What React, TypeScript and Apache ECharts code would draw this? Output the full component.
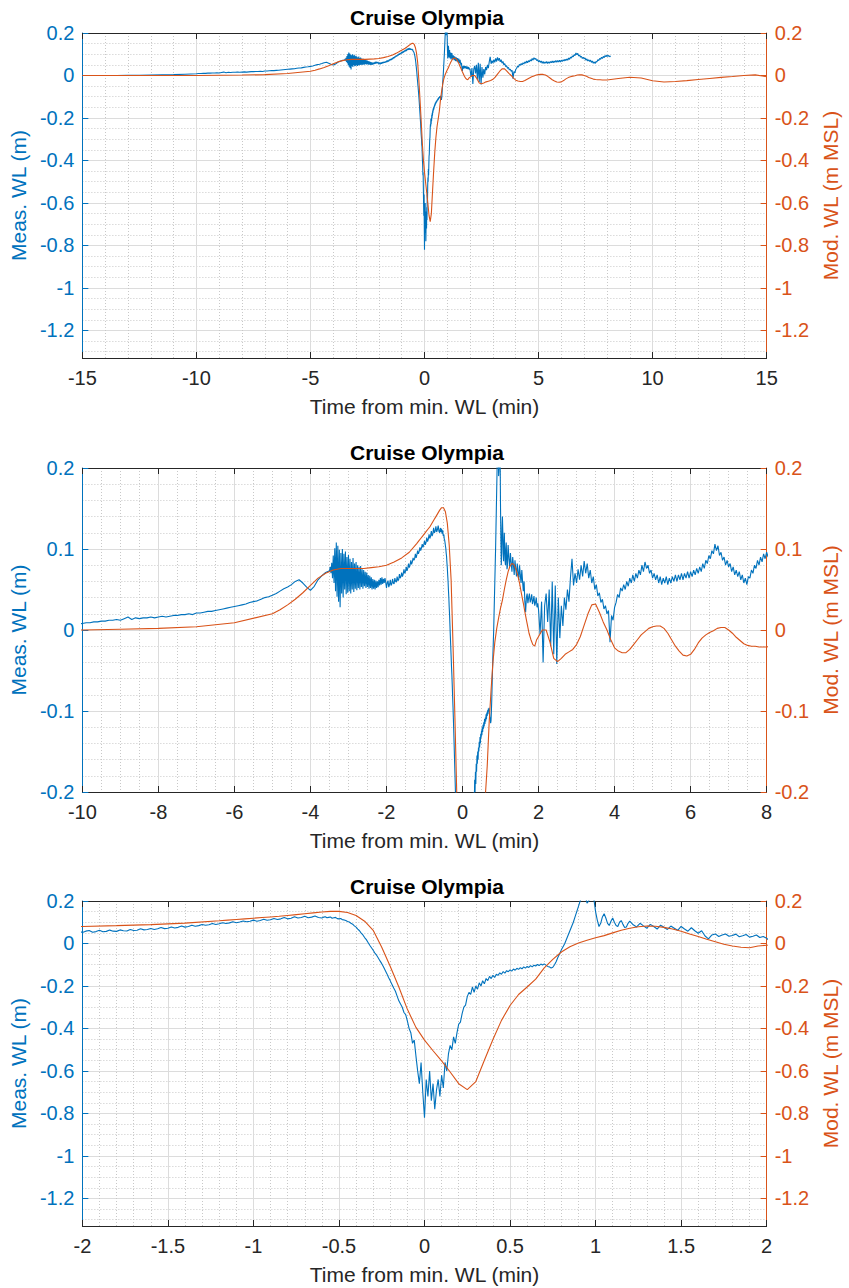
import React, { useEffect, useRef } from "react";
import * as echarts from "echarts";

// Measured water level (m), sampled in segments: start time (min), step (min), values
const measT0 = [-15, -10, -3.5, -2.0, -0.6, 1.2, 2.0];
const measDt = [0.5, 0.1, 0.02, 0.02, 0.01, 0.02, 0.04];

const measFar = [0, 0, 0, 0, 0.001, 0.001, 0.002, 0.003, 0.004, 0.006];

const measPre = [
  0.008, 0.009, 0.009, 0.010, 0.010, 0.011, 0.011, 0.012, 0.012, 0.013,
  0.012, 0.014, 0.016, 0.013, 0.015, 0.014, 0.015, 0.015, 0.016, 0.015,
  0.016, 0.017, 0.016, 0.017, 0.018, 0.018, 0.019, 0.019, 0.020, 0.019,
  0.021, 0.021, 0.022, 0.023, 0.023, 0.024, 0.025, 0.026, 0.027, 0.028,
  0.029, 0.030, 0.031, 0.032, 0.034, 0.035, 0.036, 0.038, 0.040, 0.041,
  0.043, 0.045, 0.048, 0.051, 0.053, 0.056, 0.060, 0.062, 0.058, 0.053,
  0.049, 0.054, 0.062, 0.067, 0.071,
];

const measWake = [
  0.073, 0.078, 0.070, 0.083, 0.064, 0.092, 0.058, 0.101, 0.048, 0.108,
  0.041, 0.104, 0.035, 0.099, 0.028, 0.095, 0.045, 0.100, 0.040, 0.094,
  0.050, 0.097, 0.044, 0.090, 0.046, 0.093, 0.048, 0.088, 0.045, 0.084,
  0.050, 0.089, 0.047, 0.082, 0.051, 0.084, 0.049, 0.080, 0.052, 0.078,
  0.050, 0.079, 0.053, 0.075, 0.051, 0.074, 0.054, 0.072, 0.052, 0.071,
  0.053, 0.068, 0.051, 0.067, 0.052, 0.065, 0.050, 0.063, 0.051, 0.062,
  0.050, 0.061, 0.052, 0.060, 0.053, 0.062, 0.055, 0.064, 0.056, 0.065,
  0.057, 0.063, 0.058, 0.064, 0.059,
];

const measRise = [
  0.052, 0.058, 0.061, 0.053, 0.056, 0.062, 0.055, 0.057, 0.063, 0.058,
  0.057, 0.064, 0.060, 0.059, 0.066, 0.061, 0.062, 0.069, 0.064, 0.066,
  0.071, 0.066, 0.069, 0.075, 0.070, 0.072, 0.078, 0.073, 0.076, 0.082,
  0.077, 0.080, 0.086, 0.081, 0.084, 0.089, 0.086, 0.088, 0.094, 0.089,
  0.093, 0.098, 0.094, 0.097, 0.102, 0.098, 0.101, 0.106, 0.102, 0.105,
  0.110, 0.105, 0.108, 0.114, 0.109, 0.112, 0.118, 0.113, 0.116, 0.122,
  0.116, 0.119, 0.126, 0.120, 0.122, 0.128, 0.121, 0.124, 0.129, 0.122,
];

const measDrop = [
  0.120, 0.124, 0.126, 0.121, 0.123, 0.125, 0.119, 0.121, 0.123, 0.117,
  0.116, 0.118, 0.112, 0.111, 0.108, 0.104, 0.101, 0.095, 0.091, 0.083,
  0.077, 0.068, 0.060, 0.049, 0.040, 0.028, 0.018, 0.005, -0.008, -0.020,
  -0.032, -0.045, -0.055, -0.068, -0.082, -0.095, -0.110, -0.126, -0.142, -0.160,
  -0.176, -0.193, -0.210, -0.225, -0.248, -0.270, -0.285, -0.300, -0.325, -0.335,
  -0.365, -0.400, -0.420, -0.470, -0.455, -0.530, -0.600, -0.660, -0.560, -0.700,
  -0.820, -0.640, -0.720, -0.600, -0.740, -0.660, -0.780, -0.690, -0.640, -0.720,
  -0.620, -0.680, -0.560, -0.600, -0.520, -0.480, -0.500, -0.440, -0.470, -0.420,
  -0.380, -0.370, -0.330, -0.300, -0.290, -0.250, -0.230, -0.240, -0.205, -0.230,
  -0.200, -0.215, -0.185, -0.200, -0.175, -0.190, -0.165, -0.175, -0.155, -0.165,
  -0.150, -0.160, -0.145, -0.150, -0.138, -0.145, -0.132, -0.140, -0.128, -0.133,
  -0.124, -0.130, -0.120, -0.126, -0.117, -0.122, -0.114, -0.119, -0.110, -0.116,
  -0.108, -0.113, -0.104, -0.110, -0.102, -0.106, -0.099, -0.104, -0.097, -0.101,
  -0.096, -0.102, -0.108, -0.110, -0.115, -0.112, -0.100, -0.085, -0.065, -0.048,
  -0.030, -0.015, 0.000, 0.020, 0.040, 0.060, 0.080, 0.100, 0.125, 0.150,
  0.175, 0.200, 0.230, 0.245, 0.225, 0.190, 0.200, 0.235, 0.250, 0.210,
  0.150, 0.110, 0.080, 0.095, 0.125, 0.140, 0.120, 0.095, 0.085, 0.105,
  0.120, 0.100, 0.085, 0.080, 0.100, 0.108, 0.090, 0.075, 0.078, 0.095,
];

const measSettle = [
  0.105, 0.088, 0.078, 0.095, 0.083, 0.072, 0.090, 0.080, 0.068, 0.086,
  0.076, 0.066, 0.082, 0.072, 0.062, 0.080, 0.068, 0.058, 0.074, 0.060,
  0.048, 0.060, 0.035, 0.022, 0.040, 0.045, 0.033, 0.040, 0.045, 0.034,
  0.038, 0.044, 0.032, 0.036, 0.042, 0.030, 0.034, 0.040, 0.028, 0.033,
];

const measLate = [
  0.025, -0.005, 0.035, -0.040, 0.030, 0.045, 0.010, 0.050, -0.020, 0.060,
  -0.030, 0.055, -0.042, 0.040, -0.010, 0.030, 0.005, 0.040, 0.025, 0.050,
  0.035, 0.065, 0.088, 0.055, 0.070, 0.058, 0.075, 0.062, 0.080, 0.066,
  0.085, 0.070, 0.082, 0.064, 0.074, 0.058, 0.066, 0.050, 0.056, 0.042,
  0.046, 0.034, 0.038, 0.026, 0.030, 0.020, 0.024, -0.015, 0.018, 0.012,
  0.028, 0.034, 0.044, 0.040, 0.052, 0.048, 0.056, 0.050, 0.060, 0.054,
  0.064, 0.058, 0.068, 0.060, 0.070, 0.064, 0.074, 0.068, 0.080, 0.072,
  0.084, 0.076, 0.080, 0.070, 0.074, 0.064, 0.070, 0.062, 0.068, 0.058,
  0.066, 0.056, 0.064, 0.058, 0.066, 0.056, 0.064, 0.058, 0.066, 0.060,
  0.068, 0.060, 0.068, 0.062, 0.070, 0.062, 0.070, 0.064, 0.072, 0.064,
  0.072, 0.066, 0.074, 0.068, 0.076, 0.070, 0.078, 0.072, 0.082, 0.076,
  0.086, 0.082, 0.092, 0.088, 0.098, 0.094, 0.106, 0.098, 0.104, 0.092,
  0.096, 0.086, 0.090, 0.080, 0.086, 0.078, 0.082, 0.072, 0.078, 0.068,
  0.074, 0.066, 0.072, 0.062, 0.068, 0.058, 0.064, 0.056, 0.066, 0.064,
  0.074, 0.070, 0.080, 0.076, 0.086, 0.080, 0.090, 0.084, 0.094, 0.088,
  0.096, 0.090, 0.094, 0.088, 0.092,
];

// Modelled water level (m MSL), same segment layout
const modT0 = [-15, -5, -1.2, 2.0, 8.0];
const modDt = [1, 0.2, 0.05, 0.1, 0.5];

const modFar = [0, 0, 0, 0, 0, 0, 0.001, 0.002, 0.004, 0.009];

const modRise = [
  0.020, 0.025, 0.031, 0.038, 0.046, 0.055, 0.064, 0.070, 0.074, 0.076,
  0.076, 0.076, 0.076, 0.077, 0.078, 0.080, 0.084, 0.089, 0.096,
];

const modDip = [
  0.107, 0.110, 0.113, 0.116, 0.119, 0.122, 0.125, 0.128, 0.132, 0.136,
  0.140, 0.144, 0.148, 0.151, 0.151, 0.146, 0.132, 0.105, 0.062, -0.018,
  -0.108, -0.205, -0.310, -0.395, -0.455, -0.505, -0.553, -0.605, -0.660, -0.688,
  -0.650, -0.550, -0.452, -0.362, -0.292, -0.240, -0.205, -0.168, -0.115, -0.075,
  -0.040, -0.015, 0.002, 0.015, 0.027, 0.037, 0.050, 0.062, 0.072, 0.079,
  0.082, 0.081, 0.076, 0.068, 0.058, 0.045, 0.033, 0.020, 0.008, -0.004,
  -0.012, -0.018, -0.020, -0.012,
];

const modWaves = [
  -0.008, 0.000, 0.000, -0.015, -0.035, -0.039, -0.035, -0.030, -0.027, -0.024,
  -0.018, -0.008, 0.006, 0.020, 0.031, 0.032, 0.022, 0.010, 0.000, -0.012,
  -0.022, -0.026, -0.028, -0.028, -0.024, -0.018, -0.012, -0.006, -0.002, 0.002,
  0.004, 0.005, 0.005, 0.002, -0.004, -0.012, -0.020, -0.026, -0.031, -0.032,
  -0.030, -0.024, -0.016, -0.010, -0.006, -0.003, -0.001, 0.002, 0.003, 0.003,
  0.000, -0.004, -0.009, -0.013, -0.017, -0.019, -0.020, -0.020, -0.021, -0.021,
];

const modTail = [
  -0.021, -0.014, -0.008, -0.012, -0.025, -0.031, -0.028, -0.024, -0.019, -0.014,
  -0.009, -0.005, 0.000, 0.003, -0.006,
];

const panelTitle = "Cruise Olympia";
const xName = "Time from min. WL (min)";
const yLeftName = "Meas. WL (m)";
const yRightName = "Mod. WL (m MSL)";

// Axis ranges per panel: x [min, max, major step, minor splits], y [min, max, major step, minor splits]
const xRanges = [
  [-15, 15, 5, 5],
  [-10, 8, 2, 4],
  [-2, 2, 0.5, 5],
];
const yRanges = [
  [-1.33, 0.2, 0.2, 4],
  [-0.2, 0.2, 0.1, 5],
  [-1.33, 0.2, 0.2, 4],
];

const BLUE = "#0072BD";
const ORANGE = "#D95319";
const AXIS = "#262626";
const MAJOR_GRID = "#dcdcdc";
const MINOR_GRID = "#c8c8c8";
const FONT = '"Liberation Sans", Arial, Helvetica, sans-serif';

function buildSeries(t0s: number[], dts: number[], segs: number[][]) {
  const out: [number, number][] = [];
  segs.forEach((seg, k) =>
    seg.forEach((v, i) => out.push([+(t0s[k] + i * dts[k]).toFixed(4), v]))
  );
  return out;
}

const measured = buildSeries(measT0, measDt, [
  measFar, measPre, measWake, measRise, measDrop, measSettle, measLate,
]);
const modelled = buildSeries(modT0, modDt, [modFar, modRise, modDip, modWaves, modTail]);

const GRID_LEFT = 82;
const GRID_WIDTH = 690;
const gridTops = [33, 468, 901];
const gridHeights = [325, 324, 325];
const titleY = [17, 452, 886];

function isMultiple(a: number, b: number) {
  const r = a / b;
  return Math.abs(r - Math.round(r)) < 1e-9;
}

function yAxisFor(k: number, side: "left" | "right") {
  const [min, max, step, minor] = yRanges[k];
  const color = side === "left" ? BLUE : ORANGE;
  const aligned = isMultiple(min, step);
  const scale = aligned
    ? { interval: step }
    : { splitNumber: 7, minInterval: step, maxInterval: step };
  return {
    type: "value",
    gridIndex: k,
    position: side,
    min,
    max,
    ...scale,
    axisLine: { show: true, onZero: false, lineStyle: { color, width: 1 } },
    axisTick: { show: true, inside: true, length: 6, lineStyle: { color } },
    axisLabel: {
      color,
      fontSize: 20,
      fontFamily: FONT,
      margin: 8,
      showMinLabel: aligned,
      showMaxLabel: true,
    },
    splitLine: { show: side === "left", lineStyle: { color: MAJOR_GRID, width: 1 } },
    minorTick: { show: false, splitNumber: minor },
    minorSplitLine: {
      show: side === "left",
      lineStyle: { color: MINOR_GRID, width: 1, type: [1, 2] },
    },
    name: side === "left" ? yLeftName : yRightName,
    nameLocation: "middle",
    nameRotate: 90,
    nameGap: side === "left" ? 38 : 48,
    nameTextStyle: { color, fontSize: 21, fontFamily: FONT },
  };
}

function xAxesFor(k: number) {
  const [min, max, step, minor] = xRanges[k];
  return [
    {
      type: "value",
      gridIndex: k,
      position: "bottom",
      min,
      max,
      interval: step,
      axisLine: { show: true, onZero: false, lineStyle: { color: AXIS, width: 1 } },
      axisTick: { show: true, inside: true, length: 6, lineStyle: { color: AXIS } },
      axisLabel: { color: AXIS, fontSize: 20, fontFamily: FONT, margin: 10 },
      splitLine: { show: true, lineStyle: { color: MAJOR_GRID, width: 1 } },
      minorTick: { show: false, splitNumber: minor },
      minorSplitLine: { show: true, lineStyle: { color: MINOR_GRID, width: 1, type: [1, 2] } },
      name: xName,
      nameLocation: "middle",
      nameGap: 38,
      nameTextStyle: { color: AXIS, fontSize: 21, fontFamily: FONT },
    },
    {
      type: "value",
      gridIndex: k,
      position: "top",
      min,
      max,
      interval: step,
      axisLine: { show: true, onZero: false, lineStyle: { color: AXIS, width: 1 } },
      axisTick: { show: true, inside: true, length: 6, lineStyle: { color: AXIS } },
      axisLabel: { show: false },
      splitLine: { show: false },
    },
  ];
}

export default function App() {
  const ref = useRef<HTMLDivElement>(null);

  useEffect(() => {
    if (!ref.current) return;
    const chart = echarts.init(ref.current, null, { renderer: "svg" });

    const grids = gridTops.map((top, k) => ({
      left: GRID_LEFT,
      width: GRID_WIDTH,
      top,
      height: gridHeights[k],
      containLabel: false,
    }));

    const xAxes: any[] = [];
    const yAxes: any[] = [];
    const series: any[] = [];
    for (let k = 0; k < 3; k++) {
      xAxes.push(...xAxesFor(k));
      yAxes.push(yAxisFor(k, "left"), yAxisFor(k, "right"));
      series.push(
        {
          type: "line",
          name: yLeftName,
          xAxisIndex: 2 * k,
          yAxisIndex: 2 * k,
          data: measured,
          symbol: "none",
          showSymbol: false,
          clip: true,
          silent: true,
          lineStyle: { color: BLUE, width: 1.1 },
          z: 2,
        },
        {
          type: "line",
          name: yRightName,
          xAxisIndex: 2 * k,
          yAxisIndex: 2 * k + 1,
          data: modelled,
          symbol: "none",
          showSymbol: false,
          clip: true,
          silent: true,
          lineStyle: { color: ORANGE, width: 1.1 },
          z: 3,
        }
      );
    }

    chart.setOption({
      animation: false,
      backgroundColor: "#ffffff",
      grid: grids,
      xAxis: xAxes,
      yAxis: yAxes,
      series,
      graphic: titleY.map((y) => ({
        type: "text",
        x: GRID_LEFT + GRID_WIDTH / 2,
        y,
        style: {
          text: panelTitle,
          fill: "#000000",
          fontSize: 21,
          fontWeight: "bold",
          fontFamily: FONT,
          align: "center",
          verticalAlign: "middle",
        },
      })),
    });

    return () => chart.dispose();
  }, []);

  return (
    <div
      ref={ref}
      style={{ position: "absolute", left: 0, top: 0, width: 849, height: 1288 }}
    />
  );
}
